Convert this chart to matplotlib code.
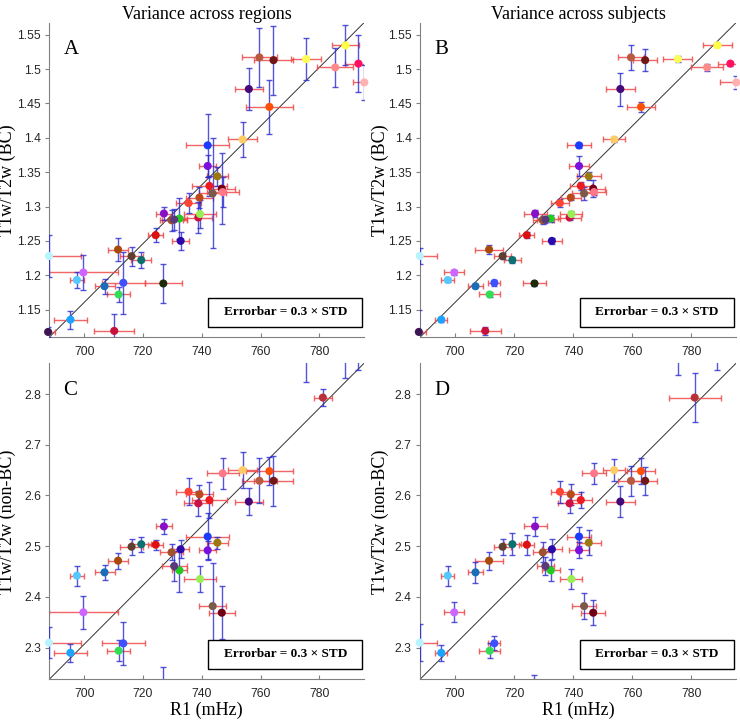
import numpy as np
import matplotlib.pyplot as plt
from matplotlib.patches import Rectangle

# R1 (mHz) per region, T1w/T2w bias-corrected and non-BC
r1 = [687.7, 695.3, 710.2, 706.9, 711.7, 713.3, 726.9, 688.0, 699.7, 697.5,
      711.5, 716.1, 719.4, 724.3, 727.1, 729.7, 732.4, 732.8, 738.8, 739.4,
      735.5, 739.2, 742.6, 743.7, 746.8, 747.1, 745.3, 742.0, 742.0, 753.9,
      763.0, 756.0, 759.6, 764.4, 775.5, 785.4, 788.9, 793.3, 795.3, 730.6,
      781.2]
bc = [1.1175, 1.1354, 1.119, 1.184, 1.172, 1.189, 1.188, 1.228, 1.204, 1.193,
      1.2374, 1.2277, 1.222, 1.2583, 1.2898, 1.280, 1.2825, 1.250, 1.284, 1.289,
      1.305, 1.313, 1.330, 1.319, 1.326, 1.321, 1.344, 1.359, 1.389, 1.3976,
      1.445, 1.471, 1.517, 1.513, 1.5146, 1.5024, 1.5345, 1.508, 1.4806, 1.281,
      1.600]
nonbc = [2.150, 2.290, 2.170, 2.4485, 2.294, 2.3086, 2.215, 2.3099, 2.3697, 2.442,
         2.4715, 2.499, 2.504, 2.503, 2.539, 2.488, 2.4524, 2.494, 2.5845, 2.4353,
         2.6075, 2.6022, 2.591, 2.382, 2.369, 2.6436, 2.507, 2.492, 2.519, 2.650,
         2.648, 2.588, 2.629, 2.629, 2.900, 3.000, 2.930, 2.950, 2.980, 2.461,
         2.793]

# errors (0.3 x STD) across regions / across subjects
r1_err_reg = [2.5, 5.7, 6.8, 3.4, 4.0, 7.4, 6.2, 11.0, 11.7, 2.3,
              3.4, 4.0, 3.4, 2.6, 2.6, 4.0, 2.6, 3.0, 4.8, 5.5,
              4.2, 4.5, 6.0, 4.5, 4.5, 5.4, 3.5, 3.0, 7.4, 5.0,
              8.0, 4.8, 6.0, 6.8, 5.0, 6.2, 4.7, 4.5, 4.0, 4.2,
              3.1]
r1_err_sub = [2.3, 2.0, 5.3, 2.5, 3.6, 2.0, 4.0, 5.7, 3.4, 2.2,
              4.8, 2.8, 3.0, 2.5, 3.9, 3.2, 3.1, 3.3, 4.0, 3.7,
              3.1, 3.4, 3.7, 4.0, 4.0, 4.2, 4.0, 3.4, 4.0, 3.8,
              4.8, 5.0, 4.4, 4.0, 4.9, 5.3, 4.8, 4.3, 5.5, 3.0,
              8.8]
bc_err_reg = [0.007, 0.013, 0.025, 0.011, 0.011, 0.045, 0.029, 0.030, 0.025, 0.012,
              0.017, 0.014, 0.012, 0.010, 0.010, 0.015, 0.030, 0.013, 0.023, 0.020,
              0.014, 0.015, 0.014, 0.080, 0.052, 0.022, 0.014, 0.016, 0.046, 0.025,
              0.039, 0.031, 0.043, 0.050, 0.030, 0.028, 0.029, 0.042, 0.026, 0.015,
              0.010]
bc_err_sub = [0.032, 0.003, 0.006, 0.003, 0.003, 0.004, 0.003, 0.012, 0.004, 0.003,
              0.006, 0.004, 0.004, 0.004, 0.005, 0.005, 0.005, 0.004, 0.004, 0.005,
              0.006, 0.004, 0.006, 0.010, 0.012, 0.004, 0.006, 0.014, 0.004, 0.003,
              0.007, 0.024, 0.018, 0.016, 0.004, 0.005, 0.003, 0.003, 0.010, 0.005,
              0.010]
nonbc_err_reg = [0.020, 0.018, 0.020, 0.015, 0.021, 0.043, 0.047, 0.031, 0.032, 0.020,
                 0.016, 0.016, 0.015, 0.010, 0.014, 0.016, 0.043, 0.018, 0.025, 0.025,
                 0.026, 0.018, 0.036, 0.084, 0.052, 0.030, 0.012, 0.018, 0.046, 0.035,
                 0.028, 0.026, 0.044, 0.049, 0.076, 0.050, 0.099, 0.103, 0.050, 0.030,
                 0.017]
nonbc_err_sub = [0.020, 0.016, 0.020, 0.020, 0.015, 0.014, 0.031, 0.036, 0.020, 0.020,
                 0.018, 0.016, 0.022, 0.020, 0.018, 0.020, 0.020, 0.020, 0.019, 0.019,
                 0.022, 0.020, 0.016, 0.026, 0.025, 0.020, 0.025, 0.016, 0.019, 0.022,
                 0.026, 0.030, 0.030, 0.028, 0.063, 0.050, 0.083, 0.050, 0.050, 0.017,
                 0.048]

colors = ['#3d1454', '#1aa3ff', '#c8103c', '#1a6eb8', '#33dd55', '#3f51ff', '#1e2a0c',
          '#b8f4ff', '#cc66ff', '#55c8ff', '#a84a0a', '#5e4030', '#0a7070', '#dd1111',
          '#8a10c8', '#a0522d', '#22cc22', '#2a0aaa', '#cc1144', '#99ee55', '#ff4433',
          '#bb4a1a', '#ee1a22', '#7a5a4a', '#700018', '#ff7788', '#9a7a10', '#7a10dd',
          '#1a3cff', '#ffcc66', '#ff5008', '#44087a', '#b85a40', '#701818', '#ffff55',
          '#ff8a8a', '#ffff44', '#ff1060', '#ffb0b0', '#5a3a7a', '#b83038']

xlim = (688.1, 795.2)
ylim_bc = (1.1097, 1.5675)
ylim_nonbc = (2.2377, 2.8605)

serif = 'Liberation Serif'
sans = 'Liberation Sans'

fig = plt.figure(figsize=(7.4, 7.21), dpi=100)

panels = [
    # rect, y, xerr, yerr, ylim, letter, ylabel, title, xlabel
    ([0.0666, 0.5322, 0.4253, 0.4363], bc, r1_err_reg, bc_err_reg, ylim_bc, 'A',
     'T1w/T2w (BC)', 'Variance across regions', None),
    ([0.5676, 0.5322, 0.4270, 0.4363], bc, r1_err_sub, bc_err_sub, ylim_bc, 'B',
     'T1w/T2w (BC)', 'Variance across subjects', None),
    ([0.0666, 0.0578, 0.4253, 0.4383], nonbc, r1_err_reg, nonbc_err_reg, ylim_nonbc, 'C',
     'T1w/T2w (non-BC)', None, 'R1 (mHz)'),
    ([0.5676, 0.0578, 0.4270, 0.4383], nonbc, r1_err_sub, nonbc_err_sub, ylim_nonbc, 'D',
     'T1w/T2w (non-BC)', None, 'R1 (mHz)'),
]

x = np.array(r1)
for rect, yv, xe, ye, ylim, letter, ylab, title, xlab in panels:
    ax = fig.add_axes(rect)
    y = np.array(yv)

    # horizontal (R1) and vertical (T1w/T2w) error bars
    ax.errorbar(x, y, xerr=xe, fmt='none', ecolor='#ee4b4b', elinewidth=1.0,
                capsize=2.5, capthick=1.0, alpha=0.85, zorder=2)
    ax.errorbar(x, y, yerr=ye, fmt='none', ecolor='#2a2ad0', elinewidth=1.0,
                capsize=2.5, capthick=1.0, alpha=0.8, zorder=3)

    inside = (y > ylim[0]) & (y < ylim[1])
    ax.scatter(x[inside], y[inside], s=34, c=[c for c, m in zip(colors, inside) if m],
               edgecolors='none', zorder=4, clip_on=False)

    # diagonal across the panel
    ax.plot(xlim, ylim, color='#333333', lw=0.7, zorder=1)

    ax.set_xlim(xlim)
    ax.set_ylim(ylim)
    ax.set_xticks(np.arange(700, 781, 20))
    if ylim == ylim_bc:
        yt = np.round(np.arange(1.15, 1.551, 0.05), 2)
    else:
        yt = np.round(np.arange(2.3, 2.81, 0.1), 1)
    ax.set_yticks(yt)
    ax.set_yticklabels(['%g' % v for v in yt])

    for s in ['top', 'right']:
        ax.spines[s].set_visible(False)
    for s in ['left', 'bottom']:
        ax.spines[s].set_color('#808080')
        ax.spines[s].set_linewidth(0.8)
    ax.tick_params(axis='x', direction='in', length=3, color='#808080',
                   labelsize=8.7, labelcolor='#262626', pad=6)
    ax.tick_params(axis='y', direction='out', length=3, color='#808080',
                   labelsize=8.7, labelcolor='#262626', pad=3)
    for lab in ax.get_xticklabels() + ax.get_yticklabels():
        lab.set_fontfamily(sans)

    ax.text(0.045, 0.945, letter, transform=ax.transAxes, ha='left', va='top',
            fontsize=15, family=serif)

    ax.add_patch(Rectangle((0.505, 0.034), 0.49, 0.09, transform=ax.transAxes,
                           facecolor='white', edgecolor='black', lw=1.0, zorder=5,
                           clip_on=False))
    ax.text(0.75, 0.079, 'Errorbar = 0.3 × STD', transform=ax.transAxes,
            ha='center', va='center', fontsize=9.5, fontweight='bold',
            family=serif, zorder=6)

    ax.set_ylabel(ylab, fontsize=13, family=serif)
    if letter in 'AC':
        ax.yaxis.set_label_coords(-0.105, 0.5)
    else:
        ax.yaxis.set_label_coords(-0.098, 0.5)
    if title:
        ax.set_title(title, fontsize=13, family=serif, pad=3)
    if xlab:
        ax.set_xlabel(xlab, fontsize=13, family=serif)
        ax.xaxis.set_label_coords(0.5, -0.072)

fig.savefig('out.png', dpi=100)
